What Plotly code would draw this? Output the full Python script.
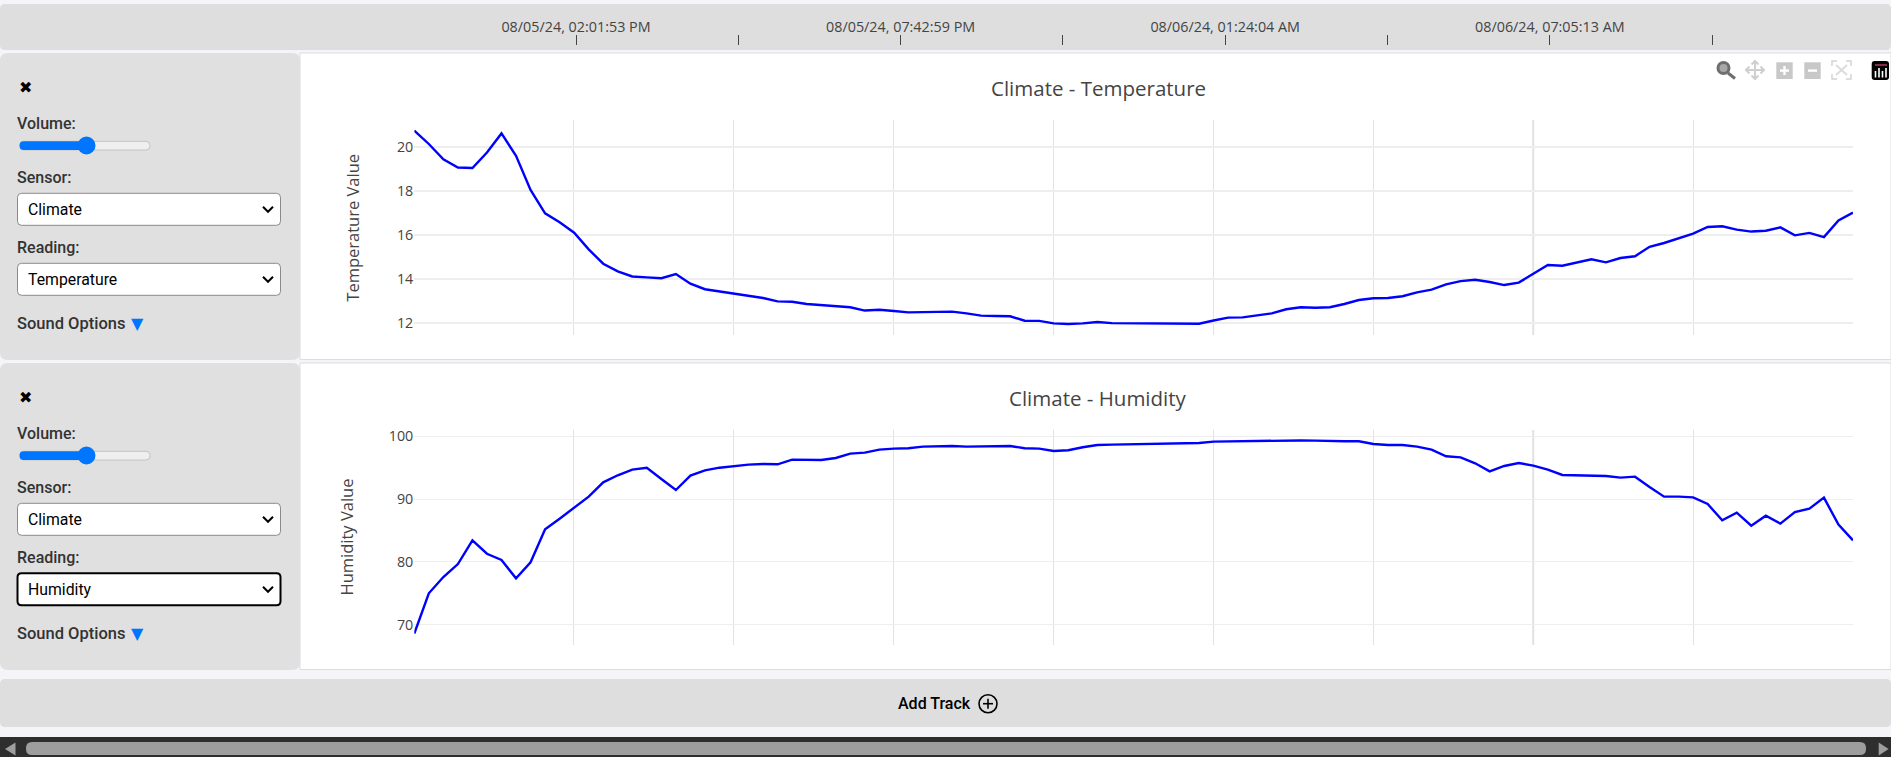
import pandas as pd
import plotly.graph_objects as go

# Values, one sample every ~15 minutes
temperature = [
    20.73, 20.12, 19.42, 19.05, 19.03, 19.73, 20.60, 19.58, 18.03, 16.97, 16.56, 16.09, 15.33, 14.68, 14.33, 14.10,
    14.06, 14.02, 14.21, 13.77, 13.52, 13.42, 13.30, 13.21, 13.12, 12.97, 12.95, 12.85, 12.80, 12.76, 12.70, 12.55,
    12.59, 12.53, 12.47, 12.48, 12.50, 12.50, 12.42, 12.32, 12.30, 12.29, 12.09, 12.08, 11.97, 11.94, 11.97, 12.03,
    11.98, 11.98, 11.98, 11.98, 11.98, 11.95, 11.95, 12.10, 12.23, 12.24, 12.33, 12.42,
    12.61, 12.70, 12.68, 12.70, 12.85, 13.03, 13.11, 13.12, 13.20, 13.38, 13.50, 13.74, 13.89, 13.95, 13.85, 13.71,
    13.82, 14.23, 14.62, 14.59, 14.74, 14.88, 14.74, 14.94, 15.02, 15.45, 15.62, 15.83, 16.05, 16.35, 16.38, 16.23,
    16.14, 16.18, 16.33, 15.97, 16.08, 15.89, 16.65, 17.00,
]
humidity = [
    68.6, 75.0, 77.6, 79.66, 83.43, 81.3, 80.3, 77.38, 79.93, 85.18, 86.88, 88.69, 90.39, 92.67, 93.79, 94.69,
    95.0, 93.2, 91.45, 93.73, 94.58, 95.0, 95.27, 95.49, 95.59, 95.54, 96.28, 96.28, 96.23, 96.55, 97.24, 97.4,
    97.88, 98.04, 98.09, 98.35, 98.46, 98.46, 98.35, 98.41, 98.41, 98.46, 98.09, 98.04, 97.66, 97.77, 98.25, 98.62,
    98.67, 98.73, 98.78, 98.83, 98.88, 98.94, 98.94, 99.15, 99.2, 99.15, 99.26, 99.26,
    99.36, 99.34, 99.31, 99.2, 99.2, 99.2, 98.78, 98.62, 98.62, 98.35, 97.88, 96.81, 96.65, 95.7, 94.42, 95.27,
    95.75, 95.33, 94.69, 93.84, 93.79, 93.73, 93.68, 93.41, 93.57, 91.93, 90.39, 90.39, 90.28, 89.22, 86.62, 87.84,
    85.77, 87.36, 86.09, 87.94, 88.48, 90.23, 85.93, 83.43,
]
sample_times = pd.date_range("2024-08-05 11:12:11", "2024-08-06 12:46:09", periods=len(temperature))

tick_times = [
    "2024-08-05 14:01:53", "2024-08-05 16:52:26", "2024-08-05 19:42:59", "2024-08-05 22:33:31",
    "2024-08-06 01:24:04", "2024-08-06 04:14:38", "2024-08-06 07:05:13", "2024-08-06 09:55:46",
]
tick_labels = ["08/05/24, 02:01:53 PM", "", "08/05/24, 07:42:59 PM", "", "08/06/24, 01:24:04 AM", "", "08/06/24, 07:05:13 AM", ""]
temperature_ticks = [12, 14, 16, 18, 20]
humidity_ticks = [70, 80, 90, 100]

W, H = 1891, 757
PANEL_GREY = "#e0e0e0"
BAR_GREY = "#dedede"
PAGE_BG = "#f4f4f9"
SLIDER_BLUE = "#0075ff"
TEXT_GREY = "#444"
UI_FONT = "Roboto"

shapes = []
annotations = []


# Pixel position (from the top left of the page) to paper coordinates
def fx(x):
    return x / W


def fy(y):
    return 1 - y / H


def add_rect(x0, y0, x1, y1, fill, r=0, line=None, line_width=0):
    if r == 0:
        path = f"M{fx(x0)},{fy(y0)} L{fx(x1)},{fy(y0)} L{fx(x1)},{fy(y1)} L{fx(x0)},{fy(y1)} Z"
    else:
        path = (
            f"M{fx(x0 + r)},{fy(y0)} L{fx(x1 - r)},{fy(y0)} Q{fx(x1)},{fy(y0)} {fx(x1)},{fy(y0 + r)} "
            f"L{fx(x1)},{fy(y1 - r)} Q{fx(x1)},{fy(y1)} {fx(x1 - r)},{fy(y1)} "
            f"L{fx(x0 + r)},{fy(y1)} Q{fx(x0)},{fy(y1)} {fx(x0)},{fy(y1 - r)} "
            f"L{fx(x0)},{fy(y0 + r)} Q{fx(x0)},{fy(y0)} {fx(x0 + r)},{fy(y0)} Z"
        )
    shapes.append(dict(type="path", xref="paper", yref="paper", path=path, fillcolor=fill,
                       line=dict(color=line or fill, width=line_width), layer="below"))


def add_circle(cx, cy, r, fill="rgba(0,0,0,0)", line=None, line_width=0):
    shapes.append(dict(type="circle", xref="paper", yref="paper", x0=fx(cx - r), x1=fx(cx + r),
                       y0=fy(cy + r), y1=fy(cy - r), fillcolor=fill,
                       line=dict(color=line or fill, width=line_width), layer="below"))


def add_polyline(points, color, width=2, fill=None):
    path = "M" + " L".join(f"{fx(x)},{fy(y)}" for x, y in points)
    if fill:
        path += " Z"
    shapes.append(dict(type="path", xref="paper", yref="paper", path=path,
                       fillcolor=fill or "rgba(0,0,0,0)",
                       line=dict(color=color, width=width), layer="below"))


def add_text(x, y, text, size=16, color="#333", anchor="left", family=UI_FONT, weight=500, angle=0):
    annotations.append(dict(x=fx(x), y=fy(y), xref="paper", yref="paper", text=text, showarrow=False,
                            xanchor=anchor, yanchor="middle", textangle=angle,
                            font=dict(family=family, size=size, color=color, weight=weight)))


def add_select(y0, label, focused=False):
    if focused:
        add_rect(17.5, y0, 280.5, y0 + 32, "white", r=4, line="black", line_width=2)
    else:
        add_rect(17.5, y0, 280.5, y0 + 32, "white", r=4, line="#8a8a8a", line_width=1)
    add_text(25.5, y0 + 16, label, size=15.8, color="black", weight=400)
    add_polyline([(263, y0 + 13.5), (268, y0 + 18.5), (273, y0 + 13.5)], "black", 2)


# One side panel plus the white chart card, dy is the offset of the track
def add_track(dy, reading, title, focused=False):
    add_rect(300, 53 + dy, W, 359.5 + dy, "white", line="#dcdce2", line_width=1)
    add_rect(0, 53 + dy, 300, 360 + dy, PANEL_GREY, r=8)
    add_text(25, 88 + dy, "✖", size=16, color="black", anchor="center", family="DejaVu Sans", weight=400)
    add_text(14.5, 123.7 + dy, "Volume:")
    add_rect(19.6, 141.3 + dy, 150, 150 + dy, "#efefef", r=4, line="#c4c4c4", line_width=1)
    add_rect(19.6, 141.3 + dy, 86, 150 + dy, SLIDER_BLUE, r=4)
    add_circle(86.5, 145.5 + dy, 9, fill=SLIDER_BLUE)
    add_text(14.5, 177.7 + dy, "Sensor:")
    add_select(193.3 + dy, "Climate")
    add_text(14.5, 247.7 + dy, "Reading:")
    add_select(263.3 + dy, reading, focused)
    add_text(14.5, 323.3 + dy, "Sound Options", size=16.5)
    add_text(137, 323.5 + dy, "▼", size=16, color=SLIDER_BLUE, anchor="center", family="DejaVu Sans", weight=400)
    add_text(1098, 88 + dy, title, size=20.5, color=TEXT_GREY, anchor="center", family="Open Sans", weight=400)


# Top bar, tracks, add track bar and scrollbar
add_rect(0, 4, W, 50, BAR_GREY, r=5)
add_track(0, "Temperature", "Climate - Temperature")
add_track(310, "Humidity", "Climate - Humidity", focused=True)
add_text(353, 227.7, "Temperature Value", size=16.5, color=TEXT_GREY, anchor="center", family="Open Sans", weight=400, angle=-90)
add_text(346, 537.5, "Humidity Value", size=16.5, color=TEXT_GREY, anchor="center", family="Open Sans", weight=400, angle=-90)

add_rect(0, 679, W, 727, BAR_GREY, r=5)
add_text(934, 703.7, "Add Track", size=16, color="black", anchor="center", weight=500)
add_circle(988, 703.7, 9, line="black", line_width=1.6)
add_polyline([(983, 703.7), (993, 703.7)], "black", 1.6)
add_polyline([(988, 698.7), (988, 708.7)], "black", 1.6)

add_rect(0, 737, W, 757, "#2e2e2e")
add_rect(26, 742, 1866, 755, "#9e9e9e", r=6)
add_polyline([(15.5, 742.5), (15.5, 755.5), (5, 749)], "#9e9e9e", 0, fill="#9e9e9e")
add_polyline([(1878.7, 742.5), (1878.7, 755.5), (1888.6, 749)], "#9e9e9e", 0, fill="#9e9e9e")

# Toolbar icons at the top right of the first track
add_circle(1723.5, 68, 5.5, fill="#a8a8a8", line="#6e6e6e", line_width=3)
add_polyline([(1728, 73), (1735, 78.5)], "#6e6e6e", 3)
add_polyline([(1755, 61.5), (1755, 79)], "#cfcfcf", 2)
add_polyline([(1746, 70), (1764, 70)], "#cfcfcf", 2)
add_polyline([(1751.5, 64.5), (1755, 61), (1758.5, 64.5)], "#cfcfcf", 2)
add_polyline([(1751.5, 75.5), (1755, 79), (1758.5, 75.5)], "#cfcfcf", 2)
add_polyline([(1749.5, 66.5), (1746, 70), (1749.5, 73.5)], "#cfcfcf", 2)
add_polyline([(1760.5, 66.5), (1764, 70), (1760.5, 73.5)], "#cfcfcf", 2)
add_rect(1776.3, 62.3, 1792.7, 79, "#c8c8c8")
add_polyline([(1780, 70.6), (1789, 70.6)], "white", 2.4)
add_polyline([(1784.5, 66), (1784.5, 75)], "white", 2.4)
add_rect(1804.3, 62.3, 1820.7, 79, "#c8c8c8")
add_polyline([(1808, 70.6), (1817, 70.6)], "white", 2.4)
add_polyline([(1832, 66), (1832, 61), (1837, 61)], "#d2d2d2", 1.4)
add_polyline([(1846, 61), (1851, 61), (1851, 66)], "#d2d2d2", 1.4)
add_polyline([(1832, 74), (1832, 79), (1837, 79)], "#d2d2d2", 1.4)
add_polyline([(1846, 79), (1851, 79), (1851, 74)], "#d2d2d2", 1.4)
add_polyline([(1836, 65), (1847, 75)], "#dcdcdc", 2)
add_polyline([(1847, 65), (1836, 75)], "#dcdcdc", 2)
add_rect(1871.7, 61, 1889, 80, "black", r=3)
for bar_x, bar_top in [(1875.5, 71), (1879, 68), (1882.5, 71), (1886, 68)]:
    add_polyline([(bar_x, bar_top), (bar_x, 77.5)], "white", 1.6)
add_polyline([(1875, 65), (1887, 65)], "#e0457b", 1.2)

# The seventh grid line looks heavier in both charts
for y_ref in ["y", "y2"]:
    shapes.append(dict(type="line", xref="x", yref=f"{y_ref} domain", x0=tick_times[6], x1=tick_times[6],
                       y0=0, y1=1, line=dict(color="#e0e0e0", width=2), layer="below"))

fig = go.Figure()
fig.add_trace(go.Scatter(x=sample_times, y=temperature, mode="lines", line=dict(color="blue", width=2.4),
                         xaxis="x", yaxis="y", showlegend=False))
fig.add_trace(go.Scatter(x=sample_times, y=humidity, mode="lines", line=dict(color="blue", width=2.4),
                         xaxis="x2", yaxis="y2", showlegend=False))
# Invisible trace so the time axis in the top bar gets drawn
fig.add_trace(go.Scatter(x=tick_times, y=[0] * len(tick_times), mode="markers", marker=dict(opacity=0),
                         xaxis="x3", yaxis="y3", showlegend=False, hoverinfo="skip"))

plot_x = dict(
    domain=[fx(414.3), fx(1853)],
    range=["2024-08-05 11:12:11", "2024-08-06 12:46:09"],
    type="date",
    tickmode="array",
    tickvals=tick_times,
    showticklabels=False,
    ticks="",
    showgrid=True,
    gridcolor="#e3e3e3",
    gridwidth=1,
    zeroline=False,
    showline=False,
)
plot_y = dict(
    tickmode="array",
    ticks="",
    showgrid=True,
    gridcolor="#eeeeee",
    zeroline=False,
    showline=False,
    tickfont=dict(family="Open Sans", size=14.3, color=TEXT_GREY),
)

fig.update_layout(
    width=W,
    height=H,
    template="none",
    margin=dict(l=0, r=0, t=0, b=0, pad=0),
    paper_bgcolor=PAGE_BG,
    plot_bgcolor="rgba(0,0,0,0)",
    showlegend=False,
    xaxis=dict(plot_x, anchor="y"),
    xaxis2=dict(plot_x, anchor="y2"),
    yaxis=dict(plot_y, domain=[fy(335), fy(120)], range=[11.44, 21.21], tickvals=temperature_ticks, gridwidth=2, anchor="x"),
    yaxis2=dict(plot_y, domain=[fy(645), fy(430)], range=[66.77, 101.0], tickvals=humidity_ticks, gridwidth=1.4, anchor="x2"),
    xaxis3=dict(
        domain=[0, 1],
        range=["2024-08-05 03:56:36", "2024-08-06 13:03:44"],
        type="date",
        side="top",
        anchor="y3",
        tickmode="array",
        tickvals=tick_times,
        ticktext=tick_labels,
        ticks="outside",
        ticklen=10,
        tickwidth=1.2,
        tickcolor=TEXT_GREY,
        tickangle=0,
        ticklabelstandoff=-3,
        tickfont=dict(family="Open Sans", size=14.35, color=TEXT_GREY),
        showgrid=False,
        zeroline=False,
        showline=False,
    ),
    yaxis3=dict(domain=[fy(100), fy(46)], visible=False, anchor="x3"),
    shapes=shapes,
    annotations=annotations,
)

fig.write_html("out.html", config={"displayModeBar": False}, post_script="document.body.style.margin='0';")
